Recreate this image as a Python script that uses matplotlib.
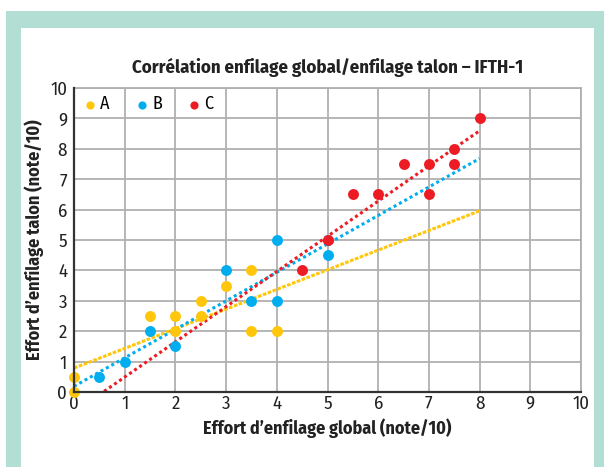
import numpy as np
import matplotlib
matplotlib.use("Agg")
import matplotlib.pyplot as plt
from matplotlib.patches import Rectangle

plt.rcParams['font.family'] = ['Fira Sans Condensed', 'DejaVu Sans']

title = "Corrélation enfilage global/enfilage talon – IFTH-1"
xlabel = "Effort d’enfilage global (note/10)"
ylabel = "Effort d’enfilage talon (note/10)"

series_names = ["A", "B", "C"]
colors = ["#FFC60B", "#00AEEF", "#ED1C24"]

a_x = [0, 0, 1.5, 2, 2, 2.5, 2.5, 3, 3.5, 3.5, 4]
a_y = [0, 0.5, 2.5, 2.5, 2, 3, 2.5, 3.5, 4, 2, 2]
b_x = [0.5, 1, 1.5, 2, 3, 3.5, 4, 4, 5, 5]
b_y = [0.5, 1, 2, 1.5, 4, 3, 5, 3, 4.5, 5]
c_x = [4.5, 5, 5.5, 6, 6.5, 7, 7, 7.5, 7.5, 8]
c_y = [4, 5, 6.5, 6.5, 7.5, 7.5, 6.5, 8, 7.5, 9]
trend_range = [0, 8]
ticks = list(range(0, 11))

W, H = 604, 467
fig = plt.figure(figsize=(W / 100, H / 100), dpi=100)
fig.patch.set_facecolor("white")

def fr(x0, y0, x1, y1):
    return (x0 / W, 1 - y1 / H), (x1 - x0) / W, (y1 - y0) / H

(xy, w, h) = fr(6, 11, 604, 467)
fig.patches.append(Rectangle(xy, w, h, transform=fig.transFigure, facecolor="#B3DED3", edgecolor="none", zorder=-10))
(xy, w, h) = fr(21, 28, 594, 467)
fig.patches.append(Rectangle(xy, w, h, transform=fig.transFigure, facecolor="white", edgecolor="none", zorder=-9))

ax = fig.add_axes([74 / W, 1 - 392 / H, (581 - 74) / W, (392 - 88) / H])
ax.set_facecolor("none")

data = [(a_x, a_y), (b_x, b_y), (c_x, c_y)]
styles = [(0, (1.2, 0.5)), (0, (1, 1)), (0, (1, 1))]
xs = np.linspace(trend_range[0], trend_range[1], 200)
for (x, y), col, ls in zip(data, colors, styles):
    k, b = np.polyfit(x, y, 1)
    ax.plot(xs, k * xs + b, color=col, lw=2.2, linestyle=ls, zorder=3)

for (x, y), col, name in zip(data, colors, series_names):
    ax.scatter(x, y, s=62, color=col, zorder=4, clip_on=False, label=name, linewidths=0)

ax.set_xlim(0, 10)
ax.set_ylim(0, 10)
ax.set_xticks(ticks)
ax.set_yticks(ticks)
ax.grid(True, color="#B0B0B0", lw=1.3, zorder=0)
ax.set_axisbelow(True)
for s in ["top", "right"]:
    ax.spines[s].set_color("#B0B0B0")
    ax.spines[s].set_linewidth(1.3)
for s in ["left", "bottom"]:
    ax.spines[s].set_color("#333333")
    ax.spines[s].set_linewidth(1.6)
    ax.spines[s].set_zorder(5)
ax.tick_params(axis="x", length=0, labelsize=13.5, pad=2, colors="#222222")
ax.tick_params(axis="y", length=0, labelsize=13.5, pad=5, colors="#222222")

ax.set_title(title, fontsize=13.5, fontweight="bold", pad=11, color="#222222")
ax.set_xlabel(xlabel, fontsize=13, fontweight="bold", labelpad=4, color="#222222")
ax.set_ylabel(ylabel, fontsize=13, fontweight="bold", labelpad=4, color="#222222")

leg = ax.legend(loc="upper left", ncol=3, frameon=False, fontsize=13,
                handletextpad=0.05, columnspacing=1.3, borderaxespad=0.0,
                handlelength=1.0, markerscale=0.75, bbox_to_anchor=(0.0, 1.0))

fig.savefig("out.png", dpi=100)
